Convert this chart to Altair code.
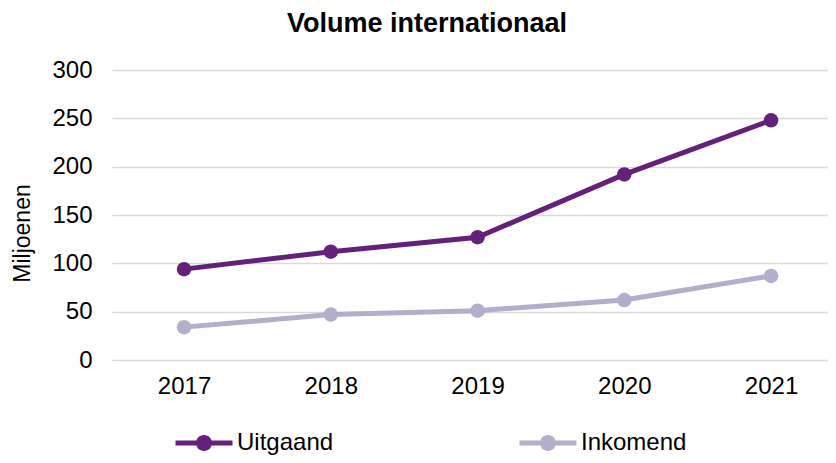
import altair as alt
import pandas as pd

years = [2017, 2018, 2019, 2020, 2021]
uitgaand = [94, 112, 127, 192, 248]
inkomend = [34, 47, 51, 62, 87]
series_names = ["Uitgaand", "Inkomend"]
series_colors = ["#64207A", "#B2AECB"]

rows = []
for y, v in zip(years, uitgaand):
    rows.append({"jaar": y, "waarde": v, "reeks": "Uitgaand"})
for y, v in zip(years, inkomend):
    rows.append({"jaar": y, "waarde": v, "reeks": "Inkomend"})
df = pd.DataFrame(rows)

FONT = "Liberation Sans"
legend_path = ("M-2.85,-0.25 L2.85,-0.25 L2.85,0.25 L-2.85,0.25 Z "
               "M0.8,0 A0.8,0.8 0 1 1 -0.8,0 A0.8,0.8 0 1 1 0.8,0 Z")

base = alt.Chart(df).encode(
    x=alt.X("jaar:Q",
            scale=alt.Scale(domain=[2016.509, 2021.388], nice=False, zero=False),
            axis=alt.Axis(values=years, format="d", title=None, grid=False,
                          domain=False, ticks=False, labelPadding=14,
                          labelFontSize=24, labelColor="#000000", labelFont=FONT)),
    y=alt.Y("waarde:Q",
            scale=alt.Scale(domain=[0, 300], nice=False),
            axis=alt.Axis(values=[0, 50, 100, 150, 200, 250, 300], title="Miljoenen",
                          domain=False, ticks=False, labelPadding=20,
                          labelFontSize=24, labelColor="#000000", labelFont=FONT,
                          titleFontSize=23, titleFont=FONT, titleFontWeight="normal",
                          titleColor="#000000", titleAngle=270, titleX=-90, titleY=163,
                          titleAlign="center", titleBaseline="middle",
                          gridColor="#D9D9D9", gridWidth=1.5)),
    color=alt.Color("reeks:N",
                    scale=alt.Scale(domain=series_names, range=series_colors),
                    legend=alt.Legend(title=None, orient="none", direction="horizontal",
                                      legendX=80, legendY=361, columns=2,
                                      gridAlign="all", columnPadding=176,
                                      symbolType=legend_path, symbolSize=400,
                                      symbolStrokeWidth=0, labelOffset=21,
                                      labelFontSize=24, labelFont=FONT,
                                      labelColor="#000000")),
)

line = base.mark_line(strokeWidth=5)
pts = base.mark_point(filled=True, size=210, opacity=1)

chart = alt.layer(line, pts).properties(
    width=716, height=290,
    title=alt.TitleParams("Volume internationaal", fontSize=27, font=FONT,
                          fontWeight="bold", color="#000000", anchor="middle",
                          dx=-43, offset=20),
    autosize=alt.AutoSizeParams(type="none"),
    padding={"left": 104, "top": 62, "right": 0, "bottom": 95},
).configure_view(stroke=None)

chart.save("out.html", embed_options={"renderer": "svg", "actions": False})
